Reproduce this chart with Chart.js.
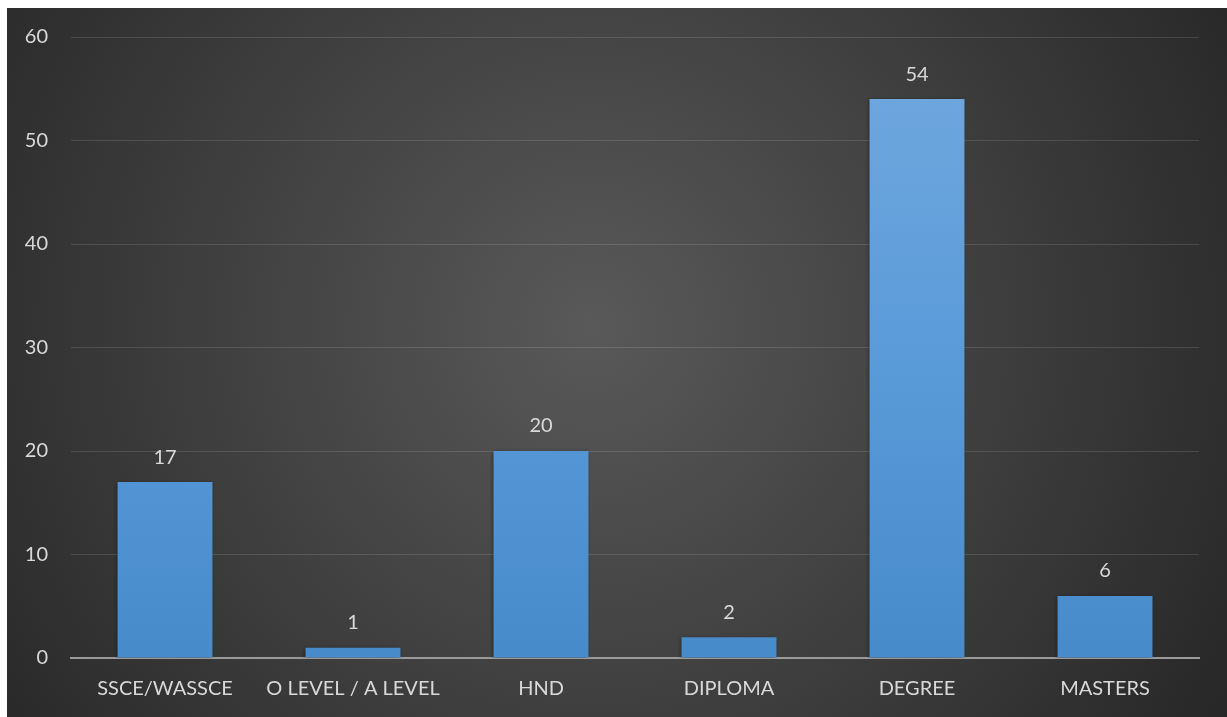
<!DOCTYPE html>
<html>
<head>
<meta charset="utf-8">
<script src="https://cdn.jsdelivr.net/npm/chart.js@4.4.0/dist/chart.umd.min.js"></script>
<style>
  html, body { margin: 0; padding: 0; background: #ffffff; }
  #wrap { position: absolute; left: 7px; top: 8px; width: 1220px; height: 709px; }
</style>
</head>
<body>
<div id="wrap"><canvas id="chart"></canvas></div>
<script>
const categories = ['SSCE/WASSCE', 'O LEVEL / A LEVEL', 'HND', 'DIPLOMA', 'DEGREE', 'MASTERS'];
const counts = [17, 1, 20, 2, 54, 6];
const yTicks = [0, 10, 20, 30, 40, 50, 60];

const FONT = 'Lato, "Open Sans", sans-serif';
const TEXT = '#d9d9d9';
const SIZE = 20;

// dark radial backdrop behind everything
const backdrop = {
  id: 'backdrop',
  beforeDraw(chart) {
    const { ctx, width, height } = chart;
    const g = ctx.createRadialGradient(width * 0.48, height * 0.45, 0, width * 0.48, height * 0.45, width * 0.62);
    g.addColorStop(0, '#595959');
    g.addColorStop(1, '#262626');
    ctx.save();
    ctx.fillStyle = g;
    ctx.fillRect(0, 0, width, height);
    ctx.restore();
  }
};

// soft shadow under the bars
const barShadow = {
  id: 'barShadow',
  beforeDatasetsDraw(chart) {
    const ctx = chart.ctx;
    ctx.save();
    ctx.shadowColor = 'rgba(0,0,0,0.45)';
    ctx.shadowBlur = 4;
    ctx.shadowOffsetX = -1;
    ctx.shadowOffsetY = 1;
  },
  afterDatasetsDraw(chart) {
    chart.ctx.restore();
  }
};

// value printed above each bar
const valueLabels = {
  id: 'valueLabels',
  afterDatasetsDraw(chart) {
    const ctx = chart.ctx;
    const meta = chart.getDatasetMeta(0);
    ctx.save();
    ctx.font = SIZE + 'px ' + FONT;
    ctx.fillStyle = TEXT;
    ctx.textAlign = 'center';
    ctx.textBaseline = 'middle';
    meta.data.forEach((bar, i) => {
      ctx.fillText(String(counts[i]), bar.x, bar.y - 25);
    });
    ctx.restore();
  }
};

function barGradient(ctx) {
  const chart = ctx.chart;
  const area = chart.chartArea;
  if (!area) return '#5b9bd5';
  const el = ctx.element;
  const top = el && el.y !== undefined ? el.y : area.top;
  const bottom = area.bottom;
  const g = chart.ctx.createLinearGradient(0, top, 0, bottom);
  g.addColorStop(0, '#72a9de');
  g.addColorStop(0.5, '#5b9bda');
  g.addColorStop(1, '#478bcb');
  return g;
}

new Chart(document.getElementById('chart'), {
  type: 'bar',
  data: {
    labels: categories,
    datasets: [{
      data: counts,
      backgroundColor: barGradient,
      borderWidth: 0,
      categoryPercentage: 1,
      barPercentage: 0.505
    }]
  },
  options: {
    responsive: true,
    maintainAspectRatio: false,
    animation: false,
    layout: { padding: { top: 29, right: 28, left: 0, bottom: 0 } },
    plugins: { legend: { display: false }, tooltip: { enabled: false } },
    scales: {
      x: {
        grid: { display: false, drawTicks: false },
        border: { color: '#9a9a9a', width: 2 },
        ticks: { color: TEXT, font: { family: FONT, size: SIZE }, padding: 19, maxRotation: 0 },
        afterFit(scale) { scale.height = 59; scale.paddingLeft = 0; scale.paddingRight = 0; }
      },
      y: {
        min: 0,
        max: 60,
        afterBuildTicks(scale) { scale.ticks = yTicks.map(v => ({ value: v })); },
        grid: { color: 'rgba(255,255,255,0.13)', lineWidth: 1, drawTicks: false },
        border: { display: false },
        ticks: { color: TEXT, font: { family: FONT, size: SIZE }, padding: 23 },
        afterFit(scale) { scale.width = 64; scale.paddingTop = 0; scale.paddingBottom = 0; }
      }
    }
  },
  plugins: [backdrop, barShadow, valueLabels]
});
</script>
</body>
</html>
